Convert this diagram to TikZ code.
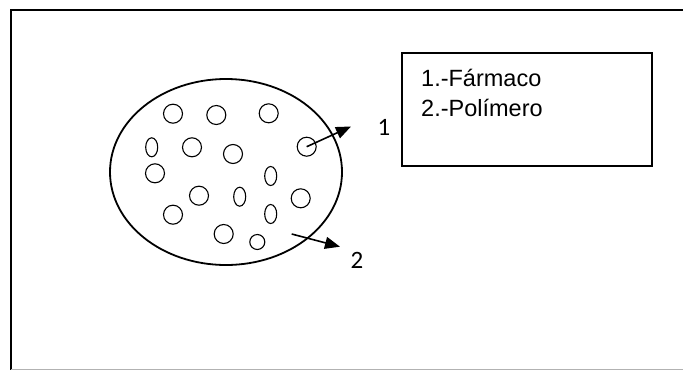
\documentclass[tikz,border=0pt]{standalone}
\usepackage{fontspec}
\setmainfont{Liberation Sans}
\newfontfamily\calfont{Carlito}
\usetikzlibrary{arrows.meta,shapes.geometric}
\begin{document}
\begin{tikzpicture}[x=1pt,y=-1pt,
  frame/.style={line width=1.6pt,black},
  particle/.style={draw,line width=1.1pt,inner sep=0pt},
  arr/.style={line width=1.6pt,-{Triangle[length=15pt,width=12pt]}},
  lbl/.style={font=\calfont\fontsize{25}{28}\selectfont,inner sep=0pt},
  legtext/.style={font=\fontsize{23.5}{30.5}\selectfont,inner sep=0pt,align=left}]
\useasboundingbox (0,0) rectangle (683,370);
\draw[frame] (683,10) -- (11,10) -- (11,370);
\draw[gray!60,line width=1pt] (11,369) -- (683,369);
% matrix
\node[draw,line width=1.8pt,ellipse,minimum width=232pt,minimum height=186pt,inner sep=0pt] (mat) at (226,172) {};
% particles
\foreach \n/\x/\y in {c1/173/113.7,c2/216.3/115,c3/268.7/113.3,c5/192/147.3,c6/233/154,c7/306.7/146.7,c8/155/173.3,c10/199/195.7,c12/300.7/198.3,c13/173/214.7,c15/223.7/234}
  \node[particle,circle,minimum size=19pt] (\n) at (\x,\y) {};
\node[particle,circle,minimum size=15pt] (c16) at (257.3,242) {};
\foreach \n/\x/\y in {e4/151.7/147.3,e9/270.7/176,e11/239.7/196.7,e14/270.7/214}
  \node[particle,ellipse,minimum width=12pt,minimum height=19pt] (\n) at (\x,\y) {};
% arrows
\coordinate (t1) at (351,126.5);
\coordinate (s2) at (291.7,234);
\coordinate (t2) at (340,246.7);
\draw[arr] (c7.center) -- (t1);
\draw[arr] (s2) -- (t2);
\node[lbl] (l1) at (384,127.5) {1};
\node[lbl] (l2) at (357,260) {2};
% legend
\draw[line width=1.3pt] (402,53) rectangle (652,166);
\node[legtext,anchor=base west] (leg) at (421,116.5) {1.-Fármaco\\2.-Polímero};
\end{tikzpicture}
\end{document}
